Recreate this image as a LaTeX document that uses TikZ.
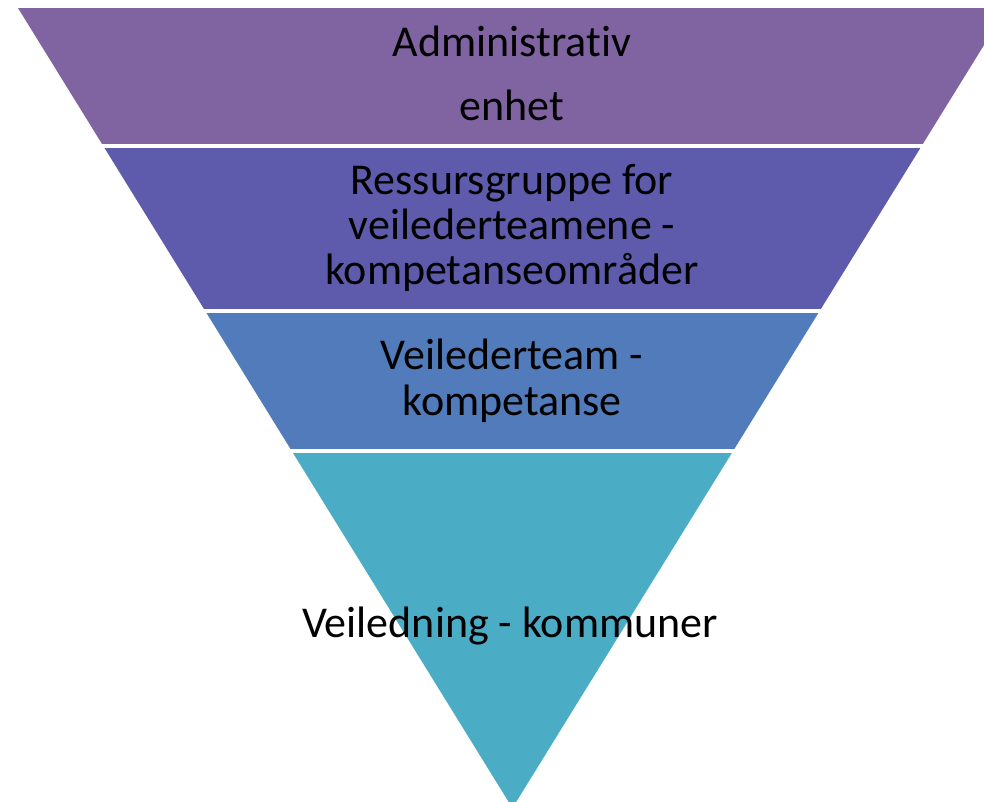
\documentclass[tikz,border=0pt]{standalone}
\usepackage{fontspec}
\setmainfont[Ligatures=NoCommon]{Carlito}
\definecolor{bandA}{RGB}{128,100,162}
\definecolor{bandB}{RGB}{95,91,172}
\definecolor{bandC}{RGB}{81,123,187}
\definecolor{bandD}{RGB}{75,172,198}
\tikzset{lbl/.style={anchor=base,inner sep=0pt,font=\fontsize{44}{52}\selectfont,text=black}}
\begin{document}
\begin{tikzpicture}[x=1pt,y=-1pt]
\useasboundingbox (0,0) rectangle (984,801);
\coordinate (TL) at (18,8);
\coordinate (TR) at (1006.9,8);
\coordinate (AP) at (512.4,808);
\begin{scope}
\clip (TL) -- (TR) -- (AP) -- cycle;
\fill[bandA] (0,8) rectangle (1010,144);
\fill[bandB] (0,148) rectangle (1010,308.5);
\fill[bandC] (0,312.5) rectangle (1010,449.3);
\fill[bandD] (0,453.3) rectangle (1010,812);
\end{scope}
\node[lbl] (t1a) at (512,56) {Administrativ};
\node[lbl] (t1b) at (512,120) {enhet};
\node[lbl] (t2a) at (512,194) {Ressursgruppe for};
\node[lbl] (t2b) at (512,239) {veilederteamene -};
\node[lbl] (t2c) at (512,284) {kompetanseområder};
\node[lbl] (t3a) at (512,369) {Veilederteam -};
\node[lbl] (t3b) at (512,415) {kompetanse};
\node[lbl] (t4a) at (510,637) {Veiledning - kommuner};
\end{tikzpicture}
\end{document}
